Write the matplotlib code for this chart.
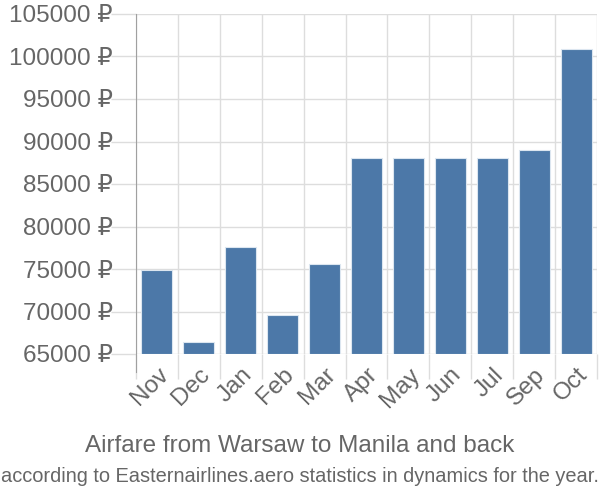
import matplotlib
matplotlib.use("Agg")
import numpy as np
import matplotlib.pyplot as plt
from matplotlib.ticker import FixedLocator


# Chart data
months = ["Nov", "Dec", "Jan", "Feb", "Mar", "Apr", "May", "Jun", "Jul", "Sep", "Oct"]
prices = [74850, 66450, 77600, 69550, 75600, 88100, 88100, 88100, 88100, 89000, 100900]
y_ticks = [65000, 70000, 75000, 80000, 85000, 90000, 95000, 100000, 105000]

title = "Airfare from Warsaw to Manila and back"
subtitle = "according to Easternairlines.aero statistics in dynamics for the year."


plt.rcParams['font.family'] = ['Liberation Sans', 'DejaVu Sans']

text_color = "#666666"
grid_color = "#dddddd"
bar_color = "#4c78a8"

fig = plt.figure(figsize=(6, 5), dpi=100)
ax = fig.add_axes([0.2267, 0.292, 0.7683, 0.68])

x = np.arange(len(months))
base = y_ticks[0]
ax.bar(x, [p - base for p in prices], bottom=base, width=0.74,
       color=bar_color, edgecolor="#dce6f0", linewidth=0.8, zorder=3)

ax.set_xlim(-0.5, len(months) - 0.5)
ax.set_ylim(y_ticks[0], y_ticks[-1])

# y axis
ax.set_yticks(y_ticks)
ax.set_yticklabels([f"{v} ₽" for v in y_ticks])
ax.yaxis.grid(True, color=grid_color, linewidth=1, zorder=0)

# x axis: labels centred, grid on category edges
ax.set_xticks(x)
ax.set_xticklabels(months, rotation=45, ha="right", rotation_mode="anchor")
ax.xaxis.set_minor_locator(FixedLocator(np.arange(-0.5, len(months), 1)))
ax.xaxis.grid(True, which="minor", color=grid_color, linewidth=1, zorder=0)

ax.tick_params(axis="x", which="major", length=0, pad=7, labelsize=17.5, labelcolor=text_color)
ax.tick_params(axis="x", which="minor", length=18, color=grid_color, width=1)
ax.tick_params(axis="y", length=18, color=grid_color, width=1, pad=-1.5,
               labelsize=17.5, labelcolor=text_color)

for side in ["top", "right", "bottom"]:
    ax.spines[side].set_visible(False)
ax.spines["left"].set_color("#a0a0a0")
ax.spines["left"].set_bounds(y_ticks[0] - 2100, y_ticks[-1])
ax.spines["left"].set_zorder(4)

fig.text(0.5, 0.108, title, ha="center", va="center", fontsize=17.5, color=text_color)
fig.text(0.5, 0.046, subtitle, ha="center", va="center", fontsize=14.4, color=text_color)

fig.savefig("out.png", dpi=100)
